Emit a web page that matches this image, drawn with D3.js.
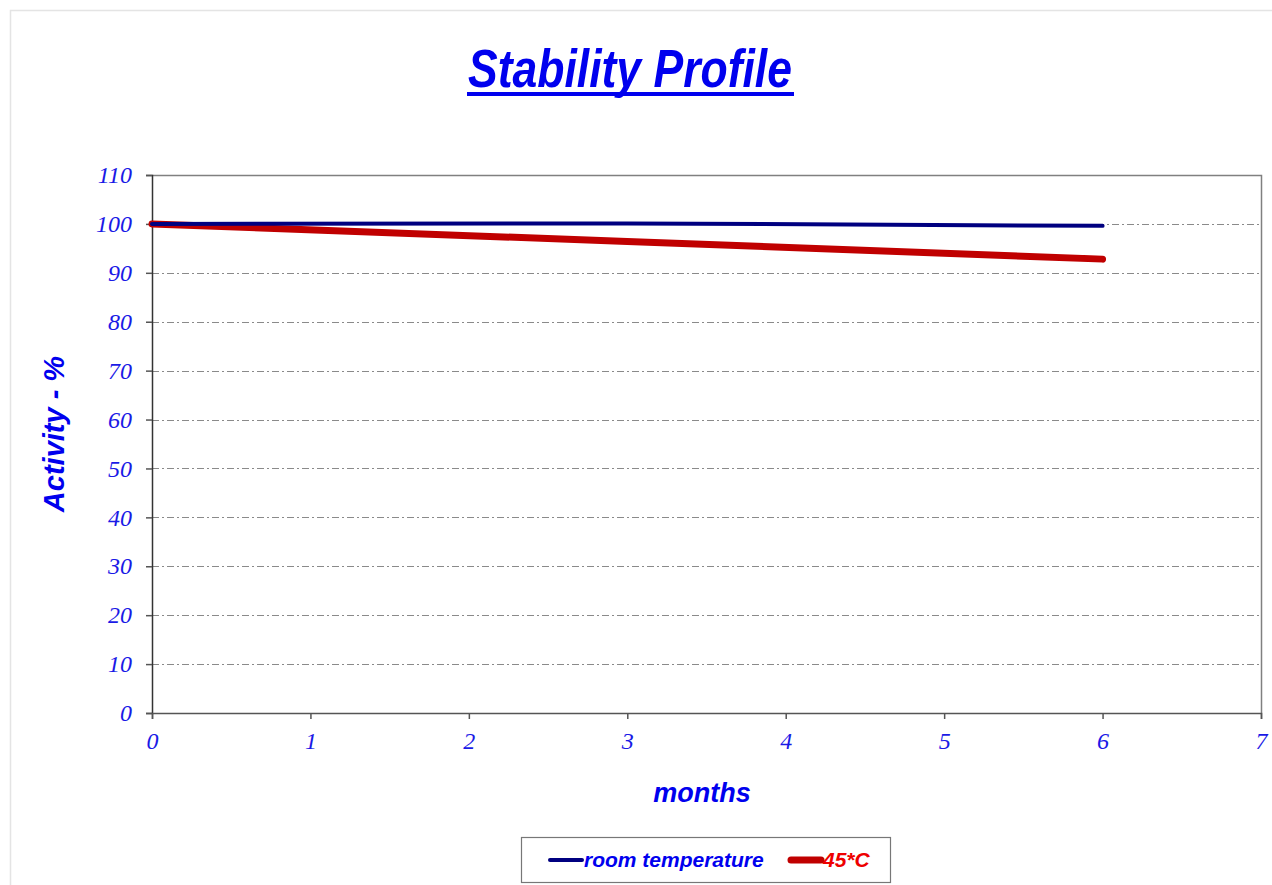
<!DOCTYPE html>
<html>
<head>
<meta charset="utf-8">
<script src="https://cdn.jsdelivr.net/npm/d3@7"></script>
<style>
  body { margin: 0; background: #fff; }
  svg { display: block; }
</style>
</head>
<body>
<svg id="chart" width="1272" height="885"></svg>
<script>
// data
const months = [0, 3, 6];
const roomTemp = [100, 100.1, 99.6];
const hot45 = [100, 96.4, 92.8];
const xTicks = [0, 1, 2, 3, 4, 5, 6, 7];
const yTicks = [0, 10, 20, 30, 40, 50, 60, 70, 80, 90, 100, 110];
const seriesNames = ["room temperature", "45*C"];

const svg = d3.select("#chart");
const W = 1272, H = 885;

// light frame round the page
svg.append("path")
  .attr("d", `M10.5,${H} V10.5 H${W}`)
  .attr("fill", "none")
  .attr("stroke", "#e4e4e4")
  .attr("stroke-width", 1.5);

const plot = { left: 152, right: 1261, top: 175, bottom: 713 };

const x = d3.scaleLinear().domain([0, 7]).range([plot.left, plot.right]);
const y = d3.scaleLinear().domain([0, 110]).range([plot.bottom, plot.top]);

// title
svg.append("text")
  .attr("x", 630).attr("y", 87)
  .attr("text-anchor", "middle")
  .attr("font-family", "'Liberation Sans Narrow', 'Liberation Sans', Arial, sans-serif")
  .attr("font-size", 53)
  .attr("font-weight", "bold")
  .attr("font-style", "italic")
  .attr("fill", "#0000ee")
  .attr("textLength", 324)
  .attr("lengthAdjust", "spacingAndGlyphs")
  .text("Stability Profile");
svg.append("rect")
  .attr("x", 467).attr("y", 92).attr("width", 327).attr("height", 4)
  .attr("fill", "#0000ee");

// grid lines
svg.append("g")
  .selectAll("line")
  .data(yTicks.filter(d => d > 0 && d < 110))
  .join("line")
  .attr("x1", plot.left).attr("x2", plot.right)
  .attr("y1", d => Math.round(y(d)) + 0.5).attr("y2", d => Math.round(y(d)) + 0.5)
  .attr("stroke", "#8a8a8a")
  .attr("stroke-width", 1)
  .attr("stroke-dasharray", "7,3,2,3");

// plot frame top and right
svg.append("path")
  .attr("d", `M${plot.left},${plot.top + 0.5} H${plot.right + 0.5} V${plot.bottom}`)
  .attr("fill", "none")
  .attr("stroke", "#808080")
  .attr("stroke-width", 1.5);

const tickFont = "'Liberation Serif', 'Times New Roman', serif";

// y axis
const yAxis = svg.append("g")
  .attr("transform", `translate(${plot.left},0)`)
  .call(d3.axisLeft(y).tickValues(yTicks).tickSize(6).tickPadding(14).tickFormat(d3.format("d")));
yAxis.select(".domain").attr("stroke", "#333").attr("stroke-width", 1.5);
yAxis.selectAll(".tick line").attr("stroke", "#555").attr("stroke-width", 1.5);
yAxis.selectAll(".tick text")
  .attr("font-family", tickFont)
  .attr("font-style", "italic")
  .attr("font-size", 24)
  .attr("fill", "#1a1ae6");

// x axis
const xAxis = svg.append("g")
  .attr("transform", `translate(0,${plot.bottom})`)
  .call(d3.axisBottom(x).tickValues(xTicks).tickSize(6).tickPadding(13).tickFormat(d3.format("d")));
xAxis.select(".domain").attr("stroke", "#555").attr("stroke-width", 1.5);
xAxis.selectAll(".tick line").attr("stroke", "#555").attr("stroke-width", 1.5);
xAxis.selectAll(".tick text")
  .attr("font-family", tickFont)
  .attr("font-style", "italic")
  .attr("font-size", 24)
  .attr("fill", "#1a1ae6");

const labelFont = "'Liberation Sans', Arial, sans-serif";

// axis titles
svg.append("text")
  .attr("transform", "translate(64,434) rotate(-90)")
  .attr("text-anchor", "middle")
  .attr("font-family", labelFont)
  .attr("font-size", 29)
  .attr("font-weight", "bold")
  .attr("font-style", "italic")
  .attr("fill", "#0000ee")
  .text("Activity - %");

svg.append("text")
  .attr("x", 702).attr("y", 802)
  .attr("text-anchor", "middle")
  .attr("font-family", labelFont)
  .attr("font-size", 27)
  .attr("font-weight", "bold")
  .attr("font-style", "italic")
  .attr("fill", "#0000ee")
  .text("months");

// series
const line = d3.line().x(d => x(d[0])).y(d => y(d[1]));

svg.append("path")
  .datum(months.map((m, i) => [m, hot45[i]]))
  .attr("d", line)
  .attr("fill", "none")
  .attr("stroke", "#c00000")
  .attr("stroke-width", 7)
  .attr("stroke-linecap", "round")
  .attr("stroke-linejoin", "round");

svg.append("path")
  .datum(months.map((m, i) => [m, roomTemp[i]]))
  .attr("d", line)
  .attr("fill", "none")
  .attr("stroke", "#000080")
  .attr("stroke-width", 4)
  .attr("stroke-linecap", "round")
  .attr("stroke-linejoin", "round");

// legend
const legend = svg.append("g");
legend.append("rect")
  .attr("x", 521.5).attr("y", 837.5).attr("width", 369).attr("height", 45)
  .attr("fill", "#fff")
  .attr("stroke", "#777")
  .attr("stroke-width", 1.2);

const legendItems = [
  { name: seriesNames[0], x1: 550, x2: 582, color: "#000080", width: 4, text: "#0000ee" },
  { name: seriesNames[1], x1: 791, x2: 821, color: "#c00000", width: 7, text: "#ee0000" }
];
legendItems.forEach(d => {
  legend.append("line")
    .attr("x1", d.x1).attr("x2", d.x2)
    .attr("y1", 860).attr("y2", 860)
    .attr("stroke", d.color)
    .attr("stroke-width", d.width)
    .attr("stroke-linecap", "round");
  legend.append("text")
    .attr("x", d.x2 + 2).attr("y", 867)
    .attr("font-family", labelFont)
    .attr("font-size", 21)
    .attr("font-weight", "bold")
    .attr("font-style", "italic")
    .attr("fill", d.text)
    .text(d.name);
});
</script>
</body>
</html>
